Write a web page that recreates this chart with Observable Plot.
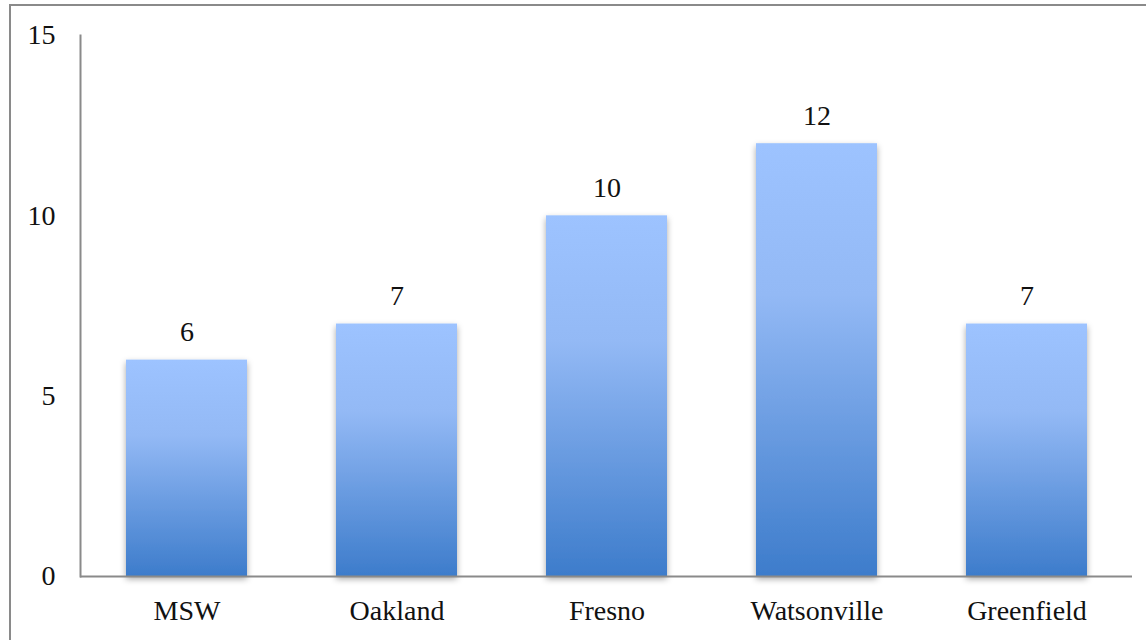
<!DOCTYPE html>
<html>
<head>
<meta charset="utf-8">
<script src="https://cdn.jsdelivr.net/npm/d3@7"></script>
<script src="https://cdn.jsdelivr.net/npm/@observablehq/plot@0.6"></script>
<style>
  html, body { margin: 0; padding: 0; background: #fff; }
  #wrap { position: relative; width: 1146px; height: 640px; overflow: hidden; }
  #border {
    position: absolute; left: 9px; top: 4px; width: 2000px; height: 2000px;
    border-top: 2px solid #8a8a8a; border-left: 2px solid #8a8a8a;
    pointer-events: none;
  }
  svg { display: block; }
</style>
</head>
<body>
<div id="wrap"><div id="chart"></div><div id="border"></div></div>
<script>
const categories = ["MSW", "Oakland", "Fresno", "Watsonville", "Greenfield"];
const values = [6, 7, 10, 12, 7];
const yTicks = [0, 5, 10, 15];

const data = categories.map((name, i) => ({name, value: values[i]}));

const font = "'Liberation Serif', 'DejaVu Serif', serif";
const axisColor = "#8a8a8a";
const fs = 28;

// Gradient fill and soft shadow used by the bars
const defs = () => {
  const d = d3.create("svg:defs");
  const g = d.append("linearGradient")
    .attr("id", "barGrad").attr("x1", 0).attr("y1", 0).attr("x2", 0).attr("y2", 1);
  g.append("stop").attr("offset", "0%").attr("stop-color", "#9dc3ff");
  g.append("stop").attr("offset", "35%").attr("stop-color", "#93b9f5");
  g.append("stop").attr("offset", "100%").attr("stop-color", "#3d7ccb");
  const f = d.append("filter").attr("id", "barShadow")
    .attr("x", "-20%").attr("y", "-20%").attr("width", "140%").attr("height", "140%");
  f.append("feDropShadow").attr("dx", 0).attr("dy", 3).attr("stdDeviation", 3)
    .attr("flood-color", "#000").attr("flood-opacity", 0.35);
  return d.node();
};

const chart = Plot.plot({
  width: 1146,
  height: 640,
  marginLeft: 80,
  marginRight: 14,
  marginTop: 35,
  marginBottom: 64,
  style: {fontFamily: font, fontSize: `${fs}px`, color: "#111", background: "transparent"},
  x: {domain: categories, paddingInner: 0.425, paddingOuter: 0.2125, label: null},
  y: {domain: [0, 15], label: null},
  marks: [
    defs,
    Plot.barY(data, {x: "name", y: "value", fill: "url(#barGrad)"}),
    Plot.text(data, {x: "name", y: "value", text: d => String(d.value),
      lineAnchor: "bottom", dy: -19, fontSize: fs, fill: "#111"}),
    Plot.axisY({ticks: yTicks, tickSize: 0, tickPadding: 25, fontSize: fs, label: null}),
    Plot.axisX({tickSize: 0, tickPadding: 24, fontSize: fs, label: null}),
    Plot.ruleY([0], {stroke: axisColor, strokeWidth: 2}),
    Plot.frame({anchor: "left", stroke: axisColor, strokeWidth: 2})
  ]
});

d3.select(chart).selectAll("g[aria-label='bar'] rect").attr("filter", "url(#barShadow)");
document.getElementById("chart").append(chart);
</script>
</body>
</html>
